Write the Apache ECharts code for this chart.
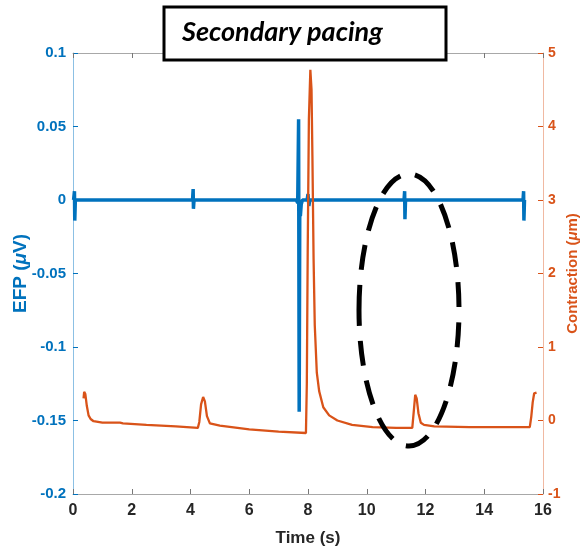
<!DOCTYPE html>
<html>
<head>
<meta charset="utf-8">
<script src="https://cdn.jsdelivr.net/npm/echarts@6/dist/echarts.min.js"></script>
<style>
  html, body { margin: 0; padding: 0; background: #fff; }
  #chart { width: 585px; height: 552px; }
</style>
</head>
<body>
<div id="chart"></div>
<script>
// ---- Data ----
const titleText = 'Secondary pacing';
const xTicks = [0, 2, 4, 6, 8, 10, 12, 14, 16];

// EFP (left axis, µV)
const efpTime = [0.02, 0.04, 0.05, 0.06, 0.08, 1.0, 2.0, 3.0, 4.07, 4.09, 4.10, 4.12, 5.0, 6.0, 7.0, 7.6, 7.65, 7.68, 7.70, 7.72, 7.74, 7.77, 7.81, 7.97, 8.0, 8.03, 8.06, 9.0, 10.0, 11.27, 11.29, 11.30, 11.32, 12.0, 13.0, 14.0, 15.32, 15.34, 15.35, 15.37, 15.4];
const efpValue = [0.0, 0.001, 0.006, -0.014, 0.0, 0.0, 0.0, 0.0, 0.0, 0.0075, -0.006, 0.0, 0.0, 0.0, 0.0, 0.0, -0.002, 0.055, -0.144, -0.004, -0.011, -0.003, 0.0, 0.0, 0.004, -0.004, 0.0, 0.0, 0.0, 0.0, 0.006, -0.013, 0.0, 0.0, 0.0, 0.0, 0.0, 0.006, -0.014, 0.0, 0.0];

// Contraction (right axis, µm)
const conTime = [0.36, 0.38, 0.42, 0.47, 0.53, 0.6, 0.7, 1.0, 1.6, 1.7, 2.5, 3.5, 4.25, 4.30, 4.36, 4.43, 4.49, 4.56, 4.66, 5.0, 6.0, 7.0, 7.93, 7.96, 7.99, 8.03, 8.08, 8.12, 8.15, 8.19, 8.23, 8.3, 8.38, 8.52, 8.72, 9.0, 9.5, 10.2, 11.0, 11.55, 11.6, 11.65, 11.7, 11.76, 11.84, 11.95, 12.3, 13.5, 14.5, 15.55, 15.6, 15.65, 15.7, 15.74, 15.78];
const conValue = [0.30, 0.39, 0.36, 0.2, 0.07, 0.02, -0.01, -0.03, -0.03, -0.04, -0.06, -0.08, -0.10, -0.02, 0.22, 0.32, 0.26, 0.06, -0.04, -0.07, -0.12, -0.15, -0.17, 0.5, 2.3, 4.1, 4.77, 4.5, 3.6, 2.2, 1.3, 0.65, 0.4, 0.18, 0.07, 0.0, -0.06, -0.09, -0.10, -0.10, 0.12, 0.35, 0.3, 0.1, -0.03, -0.06, -0.08, -0.09, -0.09, -0.09, 0.05, 0.25, 0.37, 0.35, 0.38];

const blue = '#0072BD';
const orange = '#D95319';

const efpData = efpTime.map((t, i) => [t, efpValue[i]]);
const conData = conTime.map((t, i) => [t, conValue[i]]);

const chart = echarts.init(document.getElementById('chart'), null, { renderer: 'canvas' });
const labelFont = 'Liberation Sans';

chart.setOption({
  animation: false,
  backgroundColor: '#fff',
  grid: { left: 73, right: 42, top: 53, bottom: 58, containLabel: false, outerBoundsMode: 'none' },
  xAxis: [
    {
      type: 'value', min: 0, max: 16, interval: 2, position: 'bottom',
      axisLine: { show: true, onZero: false, lineStyle: { color: '#a8a8a8', width: 1 } },
      axisTick: { show: true, inside: true, length: 5, lineStyle: { color: '#777' } },
      splitLine: { show: false },
      axisLabel: { color: '#262626', fontFamily: labelFont, fontWeight: 'bold', fontSize: 16, margin: 9,
        formatter: v => xTicks.includes(v) ? String(v) : '' },
      name: 'Time (s)', nameLocation: 'middle', nameGap: 36, nameMoveOverlap: false,
      nameTextStyle: { color: '#262626', fontFamily: labelFont, fontWeight: 'bold', fontSize: 17 }
    },
    {
      type: 'value', min: 0, max: 16, interval: 2, position: 'top',
      axisLine: { show: true, onZero: false, lineStyle: { color: '#a8a8a8', width: 1 } },
      axisTick: { show: true, inside: true, length: 5, lineStyle: { color: '#777' } },
      axisLabel: { show: false }, splitLine: { show: false }
    }
  ],
  yAxis: [
    {
      type: 'value', min: -0.2, max: 0.1, interval: 0.05, position: 'left',
      axisLine: { show: true, onZero: false, lineStyle: { color: '#8cc0e4', width: 1 } },
      axisTick: { show: true, inside: true, length: 5, lineStyle: { color: blue } },
      splitLine: { show: false },
      axisLabel: { color: blue, fontFamily: labelFont, fontWeight: 'bold', fontSize: 15, margin: 7,
        formatter: v => String(Math.round(v * 100) / 100) },
      name: '{a|EFP (}{b|μ}{a|V)}', nameLocation: 'middle', nameGap: 43, nameRotate: 90, nameMoveOverlap: false,
      nameTextStyle: {
        rich: {
          a: { color: blue, fontFamily: labelFont, fontWeight: 'bold', fontSize: 19 },
          b: { color: blue, fontFamily: labelFont, fontWeight: 'bold', fontStyle: 'italic', fontSize: 19 }
        }
      }
    },
    {
      type: 'value', min: -1, max: 5, interval: 1, position: 'right',
      axisLine: { show: true, onZero: false, lineStyle: { color: '#f0b9a2', width: 1 } },
      axisTick: { show: true, inside: true, length: 5, lineStyle: { color: orange } },
      splitLine: { show: false },
      axisLabel: { color: orange, fontFamily: labelFont, fontWeight: 'bold', fontSize: 14, margin: 5 },
      name: '{a|Contraction (}{b|μ}{a|m)}', nameLocation: 'middle', nameGap: 22, nameRotate: 90, nameMoveOverlap: false,
      nameTextStyle: {
        rich: {
          a: { color: orange, fontFamily: labelFont, fontWeight: 'bold', fontSize: 15 },
          b: { color: orange, fontFamily: labelFont, fontWeight: 'bold', fontStyle: 'italic', fontSize: 15 }
        }
      }
    }
  ],
  series: [
    {
      name: 'EFP', type: 'line', xAxisIndex: 0, yAxisIndex: 0, data: efpData,
      showSymbol: false, symbol: 'none', lineStyle: { color: blue, width: 3.5 }, z: 3
    },
    {
      name: 'Contraction', type: 'line', xAxisIndex: 0, yAxisIndex: 1, data: conData,
      showSymbol: false, symbol: 'none', lineStyle: { color: orange, width: 2.3 }, z: 4
    }
  ],
  graphic: [
    {
      type: 'rect', z: 100,
      shape: { x: 164, y: 7, width: 282, height: 53 },
      style: { fill: '#fff', stroke: '#000', lineWidth: 3 }
    },
    {
      type: 'text', z: 101, left: 182, top: 19,
      style: { text: titleText, fill: '#000', font: 'italic bold 27px Lato' }
    },
    {
      type: 'ellipse', z: 100,
      shape: { cx: 409, cy: 310, rx: 50, ry: 136 },
      style: { fill: 'none', stroke: '#000', lineWidth: 5, lineDash: [25, 15] }
    }
  ]
});
</script>
</body>
</html>
